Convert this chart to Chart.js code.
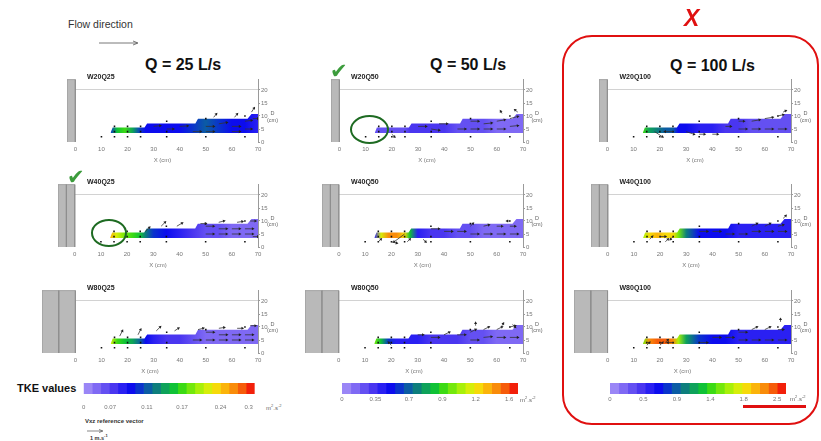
<!DOCTYPE html>
<html>
<head>
<meta charset="utf-8">
<script src="https://cdn.jsdelivr.net/npm/chart.js@4.4.0/dist/chart.umd.min.js"></script>
<style>
  body { margin:0; background:#fff; width:821px; height:441px; position:relative; overflow:hidden;
         font-family:"Liberation Sans", Arial, sans-serif; }
  canvas { position:absolute; }
  .t { position:absolute; white-space:nowrap; line-height:1; }
  .q { font-weight:bold; font-size:16px; color:#111; }
  .pl { font-weight:bold; font-size:7px; color:#222; }
  .unit { font-size:6px; color:#666; }
  .dax { font-size:5.5px; color:#666; text-align:center; line-height:1.25; }
  .chk { font-family:"DejaVu Sans"; font-size:21px; color:#3c9c3c; font-weight:bold; }
  .ell { position:absolute; border:2px solid #1e6b22; border-radius:50%; }
</style>
</head>
<body>

<div class="t" style="left:68px;top:19px;font-size:10.5px;color:#333">Flow direction</div>
<svg style="position:absolute;left:0;top:0" width="821" height="441">
  <line x1="99" y1="43" x2="137" y2="43" stroke="#555" stroke-width="0.8"/>
  <polyline points="133,41 138,43 133,45" fill="none" stroke="#555" stroke-width="0.8"/>
  <line x1="87" y1="431" x2="102" y2="431" stroke="#555" stroke-width="0.7"/>
  <polyline points="99,429.5 103,431 99,432.5" fill="none" stroke="#555" stroke-width="0.7"/>
</svg>

<div class="t q" style="left:145px;top:57px">Q = 25 L/s</div>
<div class="t q" style="left:430px;top:57px">Q = 50 L/s</div>
<div class="t q" style="left:670px;top:58px">Q = 100 L/s</div>

<div class="t" style="left:17px;top:383px;font-size:11px;font-weight:bold;color:#111">TKE values</div>
<div class="t" style="left:85px;top:418px;font-size:6px;font-weight:bold;color:#333">Vxz reference vector</div>
<div class="t" style="left:90px;top:434px;font-size:5.5px;font-weight:bold;color:#333">1 m.s<sup style="font-size:4px">-1</sup></div>

<div id="stage"></div>

<!-- annotations -->
<div style="position:absolute;left:562px;top:35px;width:253px;height:386px;border:2.5px solid #e01010;border-radius:30px"></div>
<div style="position:absolute;left:743px;top:405px;width:63px;height:3px;background:#e01010"></div>
<div class="t" style="left:684px;top:7px;font-size:23px;font-weight:bold;font-style:italic;color:#e01010">X</div>
<div class="t chk" style="left:67px;top:167px">✔</div>
<div class="t chk" style="left:330px;top:61px">✔</div>
<div class="ell" style="left:91px;top:219px;width:32px;height:24px"></div>
<div class="ell" style="left:350px;top:115px;width:35px;height:25px"></div>

<script>
// ---- data ----
const xTicks = [0, 10, 20, 30, 40, 50, 60, 70];
const yTicks = [0, 5, 10, 15, 20];
const wallTop = 24;

// colour levels of the TKE scale (low -> high)
const cmap = ['#9a86f6','#7f69f4','#6450f2','#4a36f0','#2a20f2','#0c0cee','#0a34cc','#0b5ca4','#0d7e7c',
              '#0ea25a','#10c236','#3cda14','#74e80c','#a8f00a','#d6ee0a','#f6da0a','#fbb40a','#f98c0a','#f65c0a','#f2200a'];

const cbTicks25 = ['0', '0.07', '0.11', '0.17', '0.24', '0.3'];
const cbTicks50 = ['0', '0.35', '0.7', '0.9', '1.2', '1.6'];
const cbTicks100 = ['0', '0.5', '0.9', '1.4', '1.8', '2.5'];
const cbTickAt25 = [0, 3.1, 7.4, 11.5, 16, 19.3];
const cbTickAt = [0, 3.8, 7.6, 11.4, 15.2, 19];

// wall blocks (cm)
const wallW20 = [[-3.2, 0]];
const wallW40 = [[-6.4, -3.2], [-3.2, 0]];
const wallW80 = [[-12.8, -6.4], [-6.4, 0]];

// outline of the measured region (cm)
const bandX = [13.5, 14.3, 26.5, 27.5, 46, 47, 66, 67.5, 70];
const bandTop = [3.6, 5.6, 5.6, 7.1, 7.1, 8.9, 8.9, 10.8, 10.8];
const bandBase = 3.5;

// TKE level along the flume
const tkeX = [13.5, 16, 19, 22, 25, 27, 30, 35, 40, 45, 50, 55, 60, 65, 70];
const tkeW20Q25  = [6, 10, 11, 9, 6, 5, 5, 5, 5, 6, 7, 6, 5, 5, 4];
const tkeW40Q25  = [16, 14, 12, 11, 10, 8, 6, 5, 4, 3, 2, 2, 1, 1, 1];
const tkeW80Q25  = [14, 11, 10, 9, 7, 5, 4, 3, 3, 2, 1, 1, 1, 1, 1];
const tkeW20Q50  = [2, 2, 2, 2, 2, 3, 3, 3, 3, 2, 2, 2, 1, 1, 1];
const tkeW40Q50  = [4, 14, 17, 17, 15, 10, 4, 3, 3, 2, 2, 1, 1, 1, 1];
const tkeW80Q50  = [12, 10, 6, 4, 4, 4, 4, 3, 3, 3, 2, 2, 1, 1, 1];
const tkeW20Q100 = [11, 9, 8, 7, 7, 5, 5, 4, 4, 3, 3, 2, 2, 2, 2];
const tkeW40Q100 = [13, 15, 16, 15, 15, 12, 8, 5, 5, 5, 4, 4, 4, 4, 4];
const tkeW80Q100 = [12, 17, 18, 18, 17, 13, 9, 6, 5, 5, 4, 4, 4, 4, 4];

// measurement points
const dotX = [10, 15, 20, 25, 35, 50, 65, 15, 20, 25, 15, 20, 25, 35, 35, 50, 65];
const dotY = [2, 2, 2, 2, 2, 2, 2, 6, 6, 6, 4, 4, 4, 8, 4, 9, 10];

// velocity vectors [x, y, u, w] (cm on the plot)
const vecW20Q25 = [[30,6,2.5,0.3],[35,5,2.5,0],[40,6,3,0.2],[45,4,3,0],[50,6,3,0],[50,4,3,0],[55,7,3,0.5],
  [60,6,3,0],[60,4,3,0],[65,8,2.5,0.3],[65,5,2.5,0],[68,9,2,0],[53,9.5,1,1.2],[61,9.5,1,1.2],[67.5,11.5,1,1.5]];
const vecW40Q25 = [[27,6,1.5,1.5],[33,8,1.5,1.5],[39,8,2,1.2],[55,9.5,2,0.5],[62,9.5,2,0.3],[67,10,2,0],[50,8,3,0],
  [55,7,3,0],[60,7,3,0],[65,7,3,0],[50,5,3,0],[55,5,3,0],[60,5,3,0],[65,5,3,0],[68,4,2,0],[48,9,2,0]];
const vecW80Q25 = [[17,6.5,1,2],[24,7,1,2],[31,8.5,1.5,1.5],[38,8.5,1.5,1],[47,9,2,0.5],[55,9.5,2,0.3],[62,9.5,2,0],
  [67,10.5,2,0],[50,8,3,0],[55,7,3,0],[60,7,3,0],[65,7,3,0],[50,5,3,0],[55,5,3,0],[60,5,3,0],[65,5,3,0],[45,5,3,0]];
const vecW20Q50 = [[30,6,3,0],[35,5,3,-0.5],[38,7,3,0],[45,5,3,0],[50,8,3,0],[55,7,3,0.3],[60,8,3,0.5],[65,9,3,0.8],
  [50,5,3,0],[55,5,3,0],[60,5,3,0],[65,6,3,0.3],[62,11,-0.5,0.8],[68,11.5,-1,0.8],[20,3,1,-1]];
const vecW40Q50 = [[15,2,1,1],[20,2,2,-0.5],[25,5,-4,-3],[26,2,1,1],[32,3,1,-1],[35,7,3,0],[40,6,3,0],[45,6,3,0],
  [50,8,1,1],[55,8,2,0.5],[60,8,2,0],[65,8,2,0],[50,5,3,0],[55,5,3,0],[60,5,3,0],[65,5,3,0],[65,10,-1,0]];
const vecW80Q50 = [[20,3,-1,1],[30,7,2,0],[35,6,3,0],[40,7,2,1],[45,7,3,0],[50,8,2,1],[55,9,2,1],[60,9,2,1],
  [65,10,2,0.5],[52,10.5,0,1],[62,10.5,0.5,0.8],[66,11,1,-1],[50,5,3,0],[55,6,3,0.3],[60,6,3,0],[65,6,3,0]];
const vecW20Q100 = [[18,4,3,-2],[25,4,-3,0],[30,4,3,-1],[35,3,2,0],[40,3,2,0],[45,6,2,0],[50,8,2,0],[55,8,3,0.5],
  [60,9,3,0.5],[65,10,2,0.5],[50,5,3,0],[55,5,3,0],[60,5,3,0],[65,5,3,0],[67,11.5,1,0.5]];
const vecW40Q100 = [[16,3,1,1],[20,4,2,0],[22,2,1,1],[25,4,-1,-1],[35,6,3,0],[40,6,3,0],[45,5,3,0],[50,5,3,0],
  [55,8,2,1],[60,8,2,1],[65,8,2,0.5],[67,11,1,1],[55,6,3,0],[60,6,3,0],[65,6,3,0]];
const vecW80Q100 = [[15,3,1,1],[20,3,1,1],[22,4,1,1],[25,4,-2,0],[35,4,3,0],[40,6,3,0],[45,6,3,0],[50,8,3,0],
  [55,9,2,1],[60,9,2,1],[65,9,2,0],[66,12,0,1],[50,5,3,0],[55,5,3,0],[60,5,3,0],[65,5,3,0]];

// ---- layout ----
const colX0 = [75, 339, 607.5];
const colX70 = [258, 522.5, 791];
const rowY0 = [142, 246.5, 352.5];
const plotH = 67;
const axisW = 22, axisH = 22;

Chart.defaults.font.family = '"Liberation Sans", Arial, sans-serif';
Chart.defaults.animation = false;

const stage = document.getElementById('stage');

function addCanvas(left, top, w, h) {
  const c = document.createElement('canvas');
  c.width = w; c.height = h;
  c.style.left = left + 'px'; c.style.top = top + 'px';
  stage.appendChild(c);
  return c;
}

function tkeFill(chart, levels) {
  if (!chart.chartArea) return cmap[levels[0]];
  const xs = chart.scales.x;
  const p0 = xs.getPixelForValue(tkeX[0]);
  const p1 = xs.getPixelForValue(tkeX[tkeX.length - 1]);
  const g = chart.ctx.createLinearGradient(p0, 0, p1, 0);
  tkeX.forEach((x, i) => g.addColorStop((xs.getPixelForValue(x) - p0) / (p1 - p0), cmap[levels[i]]));
  return g;
}

function makePanel(name, col, row, wall, tke, vecs) {
  const xmin = wall[0][0];
  const kx = (colX70[col] - colX0[col]) / 70;
  const left = Math.round(colX0[col] + xmin * kx);
  const top = Math.round(rowY0[row] - plotH);
  const cv = addCanvas(left, top, Math.round(colX70[col]) - left + axisW, plotH + axisH);

  const vecPts = [];
  vecs.forEach(v => {
    vecPts.push({x: v[0], y: v[1]}, {x: v[0] + v[2], y: v[1] + v[3]}, {x: v[0] + v[2], y: null});
  });
  const arrowAngle = c => {
    const v = vecs[Math.floor(c.dataIndex / 3)];
    const xs = c.chart.scales.x, ys = c.chart.scales.y;
    const dx = xs.getPixelForValue(v[0] + v[2]) - xs.getPixelForValue(v[0]);
    const dy = ys.getPixelForValue(v[1] + v[3]) - ys.getPixelForValue(v[1]);
    return Math.atan2(dx, -dy) * 180 / Math.PI;
  };

  const datasets = [
    { type: 'line', data: vecPts, borderColor: '#333', borderWidth: 0.8, spanGaps: false,
      pointRadius: c => c.dataIndex % 3 === 1 ? 1.8 : 0, pointStyle: 'triangle',
      pointRotation: arrowAngle, pointBackgroundColor: '#222', pointBorderWidth: 0, fill: false },
    { type: 'scatter', data: dotX.map((x, i) => ({x, y: dotY[i]})), pointStyle: 'rect',
      pointRadius: 1.1, backgroundColor: '#111', borderWidth: 0 },
    { type: 'line', data: bandX.map((x, i) => ({x, y: bandTop[i]})), fill: {value: bandBase},
      borderWidth: 0, pointRadius: 0, tension: 0,
      backgroundColor: c => tkeFill(c.chart, tke) }
  ];
  wall.forEach(b => {
    datasets.push({ type: 'line', data: [{x: b[0], y: 0}, {x: b[0], y: wallTop}, {x: b[1], y: wallTop}, {x: b[1], y: 0}],
      fill: 'origin', backgroundColor: '#b9b9b9', borderColor: '#8e8e8e', borderWidth: 0.8,
      pointRadius: 0, tension: 0, clip: false });
  });

  new Chart(cv, {
    type: 'scatter',
    data: { datasets },
    options: {
      responsive: false,
      layout: { padding: 0, autoPadding: false },
      plugins: { legend: { display: false }, tooltip: { enabled: false } },
      scales: {
        x: { type: 'linear', min: xmin, max: 70,
          afterBuildTicks: s => { s.ticks = xTicks.map(v => ({value: v})); },
          afterFit: s => { s.height = axisH; },
          grid: { display: false, drawTicks: false }, border: { display: false },
          ticks: { font: { size: 6 }, color: '#777', padding: 4, maxRotation: 0, autoSkip: false },
          title: { display: true, text: 'X (cm)', font: { size: 6 }, color: '#777', padding: 0 } },
        y: { type: 'linear', position: 'right', min: 0, max: wallTop,
          afterBuildTicks: s => { s.ticks = yTicks.map(v => ({value: v})); },
          afterFit: s => { s.width = axisW; },
          grid: { color: c => (c.tick && c.tick.value === 20) ? '#d2d2d2' : 'rgba(0,0,0,0)',
                  tickColor: '#9a9a9a', tickLength: 2, lineWidth: 1 },
          border: { display: true, color: '#9a9a9a', width: 1 },
          ticks: { font: { size: 6 }, color: '#777', padding: 1, autoSkip: false } }
      }
    }
  });

  // panel label and y title as text
  const lbl = document.createElement('div');
  lbl.className = 't pl';
  lbl.textContent = name;
  lbl.style.left = (colX0[col] + 12) + 'px';
  lbl.style.top = (rowY0[row] - 69) + 'px';
  stage.appendChild(lbl);
  const d = document.createElement('div');
  d.className = 't dax';
  d.innerHTML = 'D<br>(cm)';
  d.style.left = (colX70[col] + 9) + 'px';
  d.style.top = (rowY0[row] - 32) + 'px';
  stage.appendChild(d);
}

makePanel('W20Q25', 0, 0, wallW20, tkeW20Q25, vecW20Q25);
makePanel('W40Q25', 0, 1, wallW40, tkeW40Q25, vecW40Q25);
makePanel('W80Q25', 0, 2, wallW80, tkeW80Q25, vecW80Q25);
makePanel('W20Q50', 1, 0, wallW20, tkeW20Q50, vecW20Q50);
makePanel('W40Q50', 1, 1, wallW40, tkeW40Q50, vecW40Q50);
makePanel('W80Q50', 1, 2, wallW80, tkeW80Q50, vecW80Q50);
makePanel('W20Q100', 2, 0, wallW20, tkeW20Q100, vecW20Q100);
makePanel('W40Q100', 2, 1, wallW40, tkeW40Q100, vecW40Q100);
makePanel('W80Q100', 2, 2, wallW80, tkeW80Q100, vecW80Q100);

// ---- colour bars ----
function makeColorbar(left, right, labels, at, labelPad) {
  const pad = 8;
  const top = 382.5, h = 11;
  const cv = addCanvas(Math.round(left) - pad, top, Math.round(right - left) + 2 * pad, h + 20);
  new Chart(cv, {
    type: 'bar',
    data: { labels: [''], datasets: cmap.map((col, i) => ({ data: [[i, i + 1]], backgroundColor: col,
      borderWidth: 0, barPercentage: 1, categoryPercentage: 1 })) },
    options: {
      indexAxis: 'y', responsive: false,
      layout: { padding: { left: pad, right: pad }, autoPadding: false },
      plugins: { legend: { display: false }, tooltip: { enabled: false } },
      scales: {
        y: { display: false, stacked: true },
        x: { type: 'linear', min: 0, max: cmap.length, stacked: false,
          afterBuildTicks: s => { s.ticks = at.map(v => ({value: v})); },
          afterFit: s => { s.height = 20; },
          grid: { display: false, drawTicks: false }, border: { display: false },
          ticks: { font: { size: 6 }, color: '#777', padding: labelPad, maxRotation: 0, autoSkip: false,
                   callback: (v, i) => labels[i] } }
      }
    }
  });
}
makeColorbar(80, 255, cbTicks25, cbTickAt25, 10);
makeColorbar(341.7, 517.7, cbTicks50, cbTickAt, 2);
makeColorbar(610, 786, cbTicks100, cbTickAt, 2);

[[266, 403.5], [520, 395.5], [790, 394.5]].forEach(p => {
  const u = document.createElement('div');
  u.className = 't unit';
  u.innerHTML = 'm<sup style="font-size:4px">2</sup>.s<sup style="font-size:4px">-2</sup>';
  u.style.left = p[0] + 'px'; u.style.top = p[1] + 'px';
  stage.appendChild(u);
});
</script>
</body>
</html>
